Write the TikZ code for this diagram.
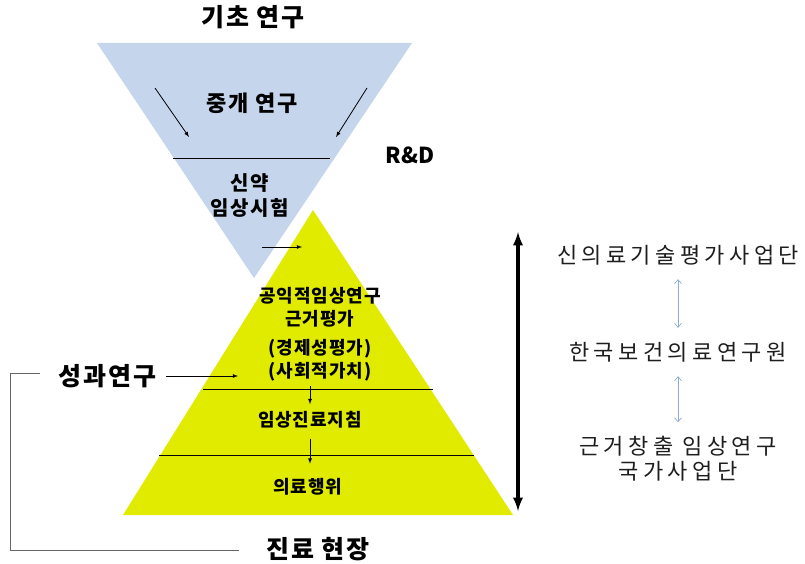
\documentclass[tikz,border=0pt]{standalone}
\usepackage{fontspec}
\setmainfont{Noto Sans CJK KR}
\usetikzlibrary{positioning, arrows.meta}
\definecolor{paleblue}{RGB}{197,213,235}
\definecolor{limeyellow}{RGB}{225,235,0}
\definecolor{steelline}{RGB}{140,172,208}
\definecolor{darktext}{RGB}{30,30,30}

\begin{document}
\begin{tikzpicture}[
          x = 1pt, y = -1pt, inner sep = 0,
          edge/.style = {draw, -latex, line width = .8pt}
        ]
          \tikzstyle {heading} = [font = \bfseries\fontsize{25}{28}\selectfont\addfontfeatures{LetterSpace=8}]
          \tikzstyle {level} = [font = \bfseries\fontsize{18}{23}\selectfont\addfontfeatures{LetterSpace=5}, align = center]
          \tikzstyle {agency} = [font = \fontsize{22}{25}\selectfont\addfontfeatures{LetterSpace=20}, text = darktext, align = center]
          \useasboundingbox (0,0) rectangle (805,564);
          % place shapes
          \fill [paleblue] (97,43) -- (412,43) -- (254,278) -- cycle;
          \fill [limeyellow] (123,515) -- (513,515) -- (313,210) -- cycle;
          \draw [line width = .8pt] (173,158) -- (330,158);
          \draw [line width = .8pt] (203,389) -- (433,389);
          \draw [line width = .8pt] (159,455) -- (474,455);
          % place nodes
          \path node (basic) [heading] at (253,17) {기초 연구};
          \path node (trans) [level, font = \bfseries\fontsize{22}{24}\selectfont\addfontfeatures{LetterSpace=8}] at (252,103) {중개 연구};
          \path node (drug) [level, font = \bfseries\fontsize{20}{25}\selectfont\addfontfeatures{LetterSpace=8}] at (250,196) {신약\\임상시험};
          \path node (rnd) [heading, font = \bfseries\fontsize{22}{24}\selectfont] at (410,155) {R\&D};
          \path node (public) [level] at (320,307) {공익적임상연구\\근거평가};
          \path node (value) [level] at (320,360) {(경제성평가)\\(사회적가치)};
          \path node (guide) [level] at (310,420) {임상진료지침};
          \path node (practice) [level] at (308,487) {의료행위};
          \path node (outcome) [heading] at (107,376) {성과연구};
          \path node (field) [heading] at (318,549) {진료 현장};
          \path node (neca) [agency] at (678,255) {신의료기술평가사업단};
          \path node (kihasa) [agency] at (678,352) {한국보건의료연구원};
          \path node (nsec) [agency] at (678,459) {근거창출 임상연구\\국가사업단};
          % free ends
          \coordinate (tl0) at (155,88);  \coordinate (tl1) at (189,137);
          \coordinate (tr0) at (367,88);  \coordinate (tr1) at (336,137);
          \coordinate (d0) at (262,247);  \coordinate (d1) at (302,247);
          \coordinate (o1) at (238,376);
          \coordinate (top) at (518,232); \coordinate (bot) at (518,511);
          \coordinate (b0) at (40,373);   \coordinate (b1) at (239,550);
          % place edges
          \foreach \a/\b in {tl0/tl1, tr0/tr1, d0/d1}
            { \path [edge] (\a) -- (\b) ; } ;
          \path [edge] (outcome.east) ++(10,0) -- (o1);
          \path [edge] (value.south -| guide) ++(0,5) -- ++(0,18);
          \path [edge] (guide.south) ++(0,10) -- ++(0,25);
          \draw [latex-latex, line width = 3.5pt] (top) -- (bot);
          \foreach \u/\v in {neca/kihasa, kihasa/nsec}
            { \draw [{Straight Barb[length=4pt,width=7pt]}-{Straight Barb[length=4pt,width=7pt]}, steelline, line width = .7pt, shorten <= 14pt, shorten >= 14pt] (\u) -- (\v) ; } ;
          \draw [gray!80!black, line width = .8pt] (b0) -- (10,373) |- (b1);
        \end{tikzpicture}
\end{document}
